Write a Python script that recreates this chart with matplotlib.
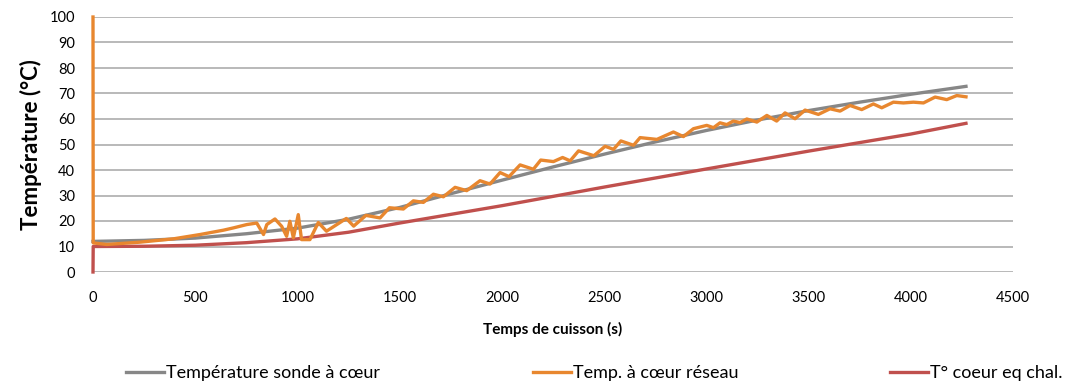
import matplotlib
matplotlib.use('Agg')
import matplotlib.pyplot as plt

plt.rcParams['font.family'] = ['Lato', 'DejaVu Sans']

# Température sonde à cœur
gris_t = [0, 250, 500, 750, 1000, 1250, 1500, 1750, 2000, 2250, 2500, 2750,
          3000, 3250, 3500, 3750, 4000, 4270]
gris_T = [12, 12.4, 13.3, 15, 17.2, 20.7, 25.3, 30.7, 36, 41.2, 46.2, 51,
          55.5, 59.6, 63.3, 66.6, 69.7, 72.8]

# Temp. à cœur réseau
orange_t = [0, 1, 67, 230, 393, 524, 638, 687, 752, 801, 834, 850, 890, 923,
            947, 963, 980, 1004, 1020, 1061, 1102, 1142, 1239, 1275, 1335,
            1404, 1450, 1518, 1567, 1616, 1665, 1714, 1771, 1828, 1893, 1942,
            1991, 2035, 2089, 2154, 2190, 2252, 2297, 2334, 2375, 2450, 2505,
            2546, 2582, 2644, 2676, 2758, 2839, 2888, 2937, 3002, 3035, 3067,
            3100, 3132, 3165, 3198, 3247, 3296, 3344, 3385, 3434, 3483, 3548,
            3605, 3654, 3703, 3760, 3817, 3858, 3915, 3964, 4013, 4062, 4119,
            4176, 4225, 4270]
orange_T = [100, 11.4, 10.8, 11.7, 13.0, 14.7, 16.4, 17.3, 18.6, 19.2, 14.7,
            18.6, 20.8, 17.9, 14.0, 19.9, 13.4, 22.5, 12.7, 12.7, 19.4, 16.0,
            21.0, 18.0, 22.2, 21.2, 25.2, 24.7, 27.9, 27.3, 30.5, 29.5, 33.2,
            31.9, 35.8, 34.5, 39.0, 37.4, 42.0, 40.3, 43.9, 43.3, 44.9, 43.6,
            47.5, 45.6, 49.3, 48.1, 51.4, 49.7, 52.7, 52.0, 54.9, 53.1, 56.2,
            57.5, 56.6, 58.5, 57.8, 59.2, 58.6, 60.0, 58.8, 61.4, 59.2, 62.4,
            60.1, 63.5, 61.8, 64.0, 63.1, 65.3, 63.7, 65.9, 64.4, 66.6, 66.3,
            66.6, 66.3, 68.6, 67.6, 69.2, 68.7]

# T° coeur eq chal.
rouge_t = [0, 1, 250, 500, 750, 1000, 1250, 1500, 1750, 2000, 2500, 3000,
           3500, 4000, 4270]
rouge_T = [0, 10, 10.1, 10.5, 11.5, 13, 15.6, 19.2, 22.6, 26, 33.3, 40.4,
           47.4, 54.1, 58.3]

noms = ['Température sonde à cœur', 'Temp. à cœur réseau', 'T° coeur eq chal.']
couleurs = ['#878787', '#E8872F', '#C0504D']

fig = plt.figure(figsize=(10.73, 3.85), dpi=100)
ax = fig.add_axes([93 / 1073, 1 - 272 / 385, 920 / 1073, 255 / 385])

series = [(gris_t, gris_T), (orange_t, orange_T), (rouge_t, rouge_T)]
lignes = []
for (t, T), nom, c in zip(series, noms, couleurs):
    l, = ax.plot(t, T, color=c, lw=2.4, label=nom, clip_on=False,
                 solid_joinstyle='round')
    lignes.append(l)
# rouge au-dessus du gris, orange au-dessus
lignes[2].set_zorder(3)
lignes[1].set_zorder(4)

ax.set_xlim(0, 4500)
ax.set_ylim(0, 100)
ax.set_xticks(range(0, 4501, 500))
ax.set_yticks(range(0, 101, 10))
ax.yaxis.grid(True, color='#A6A6A6', lw=1.1)
ax.set_axisbelow(True)
for s in ax.spines.values():
    s.set_visible(False)
ax.tick_params(axis='both', length=0, labelsize=10.5, labelcolor='#000000')
ax.tick_params(axis='y', pad=13)
ax.tick_params(axis='x', pad=14)

ax.set_ylabel('Température (°C)', fontsize=16, fontweight='bold', labelpad=5)
ax.set_xlabel('Temps de cuisson (s)', fontsize=11, fontweight='bold', labelpad=12)

# légende : une entrée par position
xs = [126, 533, 890]
for l, x in zip(lignes, xs):
    fig.legend(handles=[l], loc='center left', bbox_to_anchor=(x / 1073, 1 - 373 / 385),
               frameon=False, fontsize=13, borderpad=0, borderaxespad=0,
               handlelength=2.1, handletextpad=0.1)

fig.savefig('out.png', dpi=100)
